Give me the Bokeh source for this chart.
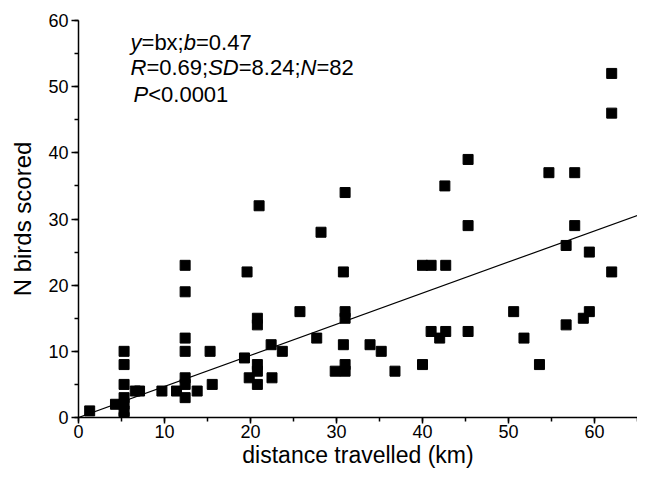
from bokeh.plotting import figure
from bokeh.models import Range1d, SingleIntervalTicker, Label
from bokeh.embed import file_html
from bokeh.resources import INLINE

# ---- data ----
distance_km = [1.3, 4.3, 5.3, 5.3, 5.3, 5.3, 5.3, 5.3, 5.3, 6.6, 7.1, 9.7, 11.4,
               12.4, 12.4, 12.4, 12.4, 12.4, 12.4, 12.4, 13.8, 15.3, 15.55, 19.3,
               19.85, 19.6, 21.0, 20.8, 20.8, 20.8, 20.8, 20.8, 22.4, 22.5, 23.7,
               25.75, 27.7, 28.2, 29.85, 31.0, 30.8, 31.0, 31.0, 30.8, 31.0, 31.0,
               33.9, 35.2, 36.8, 40.0, 41.0, 42.7, 42.6, 40.0, 41.0, 42.0, 42.7,
               62.0, 62.0, 45.3, 54.7, 57.7, 45.3, 57.7, 56.7, 59.4, 62.0, 50.6,
               59.4, 58.7, 56.7, 51.8, 53.6, 45.3]
birds_scored = [1, 2, 10, 8, 5, 3, 2, 1, 0, 4, 4, 4, 4,
                23, 19, 12, 10, 6, 5, 3, 4, 10, 5, 9,
                6, 22, 32, 15, 14, 8, 7, 5, 11, 6, 10,
                16, 12, 28, 7, 34, 22, 16, 15, 11, 8, 7,
                11, 10, 7, 23, 23, 23, 35, 8, 13, 12, 13,
                52, 46, 39, 37, 37, 29, 29, 26, 25, 22, 16,
                16, 15, 14, 12, 8, 13]
slope_b = 0.47
fit_x = [0, 65]
x_limits = (0, 65)
y_limits = (0, 60)
tick_interval = 10

annotation_lines = [
    [("y", "italic"), ("=bx;", "normal"), ("b", "italic"), ("=0.47", "normal")],
    [("R", "italic"), ("=0.69;", "normal"), ("SD", "italic"), ("=8.24;", "normal"),
     ("N", "italic"), ("=82", "normal")],
    [("P", "italic"), ("<0.0001", "normal")],
]
annotation_y = [56.7, 52.9, 48.8]
annotation_x = 6.05

FONT = "Liberation Sans"

p = figure(width=637, height=470, output_backend="svg", toolbar_location=None,
           x_range=Range1d(*x_limits), y_range=Range1d(*y_limits),
           min_border_left=78, min_border_right=0, min_border_top=20,
           min_border_bottom=50)
p.outline_line_color = None
p.grid.visible = False
p.background_fill_color = "white"
p.border_fill_color = "white"

p.line(fit_x, [slope_b * v for v in fit_x], line_color="black", line_width=1.2)
p.scatter(distance_km, birds_scored, marker="square", size=10,
          fill_color="black", line_color="black")

for ax in (p.xaxis[0], p.yaxis[0]):
    ax.ticker = SingleIntervalTicker(interval=tick_interval, num_minor_ticks=2)
    ax.axis_line_width = 1.5
    ax.axis_line_color = "black"
    ax.major_tick_line_width = 1.5
    ax.minor_tick_line_width = 1.5
    ax.major_tick_line_color = "black"
    ax.minor_tick_line_color = "black"
    ax.major_tick_out = 7
    ax.major_tick_in = 0
    ax.minor_tick_out = 4
    ax.minor_tick_in = 0
    ax.major_label_text_font = FONT
    ax.major_label_text_font_size = "18px"
    ax.major_label_text_color = "black"
    ax.axis_label_text_font = FONT
    ax.axis_label_text_font_size = "24px"
    ax.axis_label_text_font_style = "normal"
    ax.axis_label_text_color = "black"

p.xaxis.axis_label = "distance travelled (km)"
p.yaxis.axis_label = "N birds scored"
p.xaxis.major_tick_out = 6
p.xaxis.axis_label_text_font_size = "23px"
p.xaxis.major_label_standoff = 1
p.xaxis.axis_label_standoff = 1
p.yaxis.major_label_standoff = 3
p.yaxis.axis_label_standoff = 9

# Arial/Liberation Sans advance widths (em units)
W = {"y": .5, "=": .584, "b": .556, "x": .5, ";": .278, ".": .278, "R": .722,
     "S": .667, "D": .722, "N": .722, "P": .667, "<": .584}
for d in "0123456789":
    W[d] = .556

SIZE = 22
for i, (segs, ly) in enumerate(zip(annotation_lines, annotation_y)):
    off = 3 if i == 2 else 0
    for t, st in segs:
        p.add_layout(Label(x=annotation_x, y=ly, x_offset=off, text=t,
                           text_font=FONT, text_font_size=f"{SIZE}px",
                           text_font_style=st, text_baseline="middle",
                           text_align="left", text_color="black"))
        off += sum(W.get(c, .556) for c in t) * SIZE

open("out.html", "w").write(file_html(p, INLINE))
